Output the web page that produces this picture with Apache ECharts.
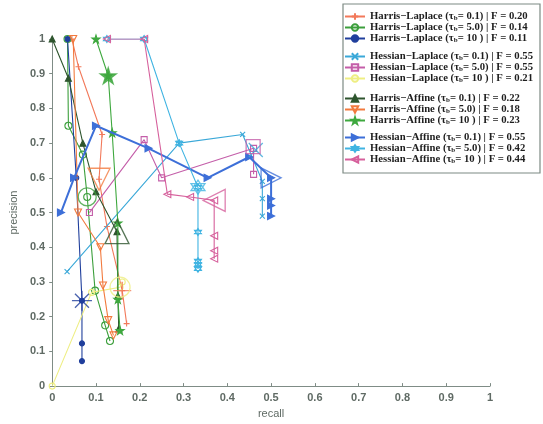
<!DOCTYPE html>
<html>
<head>
<meta charset="utf-8">
<script src="https://cdn.jsdelivr.net/npm/echarts@6/dist/echarts.min.js"></script>
<style>
  html, body { margin: 0; padding: 0; background: #ffffff; }
  #chart { width: 543px; height: 424px; }
</style>
</head>
<body>
<div id="chart"></div>
<script>
// Precision / recall curves of the detectors, one pair of arrays per curve.
const recallHarrisLaplace01 = [0.045, 0.06, 0.114, 0.107, 0.125, 0.16, 0.17];
const precisionHarrisLaplace01 = [1.0, 0.92, 0.725, 0.596, 0.46, 0.275, 0.18];

const recallHarrisLaplace50 = [0.035, 0.037, 0.07, 0.08, 0.098, 0.121, 0.132];
const precisionHarrisLaplace50 = [1.0, 0.75, 0.667, 0.545, 0.275, 0.175, 0.13];

const recallHarrisLaplace10 = [0.035, 0.055, 0.068, 0.068, 0.068];
const precisionHarrisLaplace10 = [1.0, 0.6, 0.246, 0.123, 0.072];

const recallHessianLaplace01 = [0.034, 0.29, 0.435, 0.48, 0.48, 0.48];
const precisionHessianLaplace01 = [0.33, 0.70, 0.725, 0.59, 0.54, 0.49];

const recallHessianLaplace50 = [0.085, 0.21, 0.25, 0.46, 0.46];
const precisionHessianLaplace50 = [0.5, 0.71, 0.6, 0.685, 0.61];

const recallHessianLaplace10 = [0.0, 0.09, 0.155, 0.16];
const precisionHessianLaplace10 = [0.0, 0.27, 0.285, 0.30];

const recallHarrisAffine01 = [0.0, 0.037, 0.07, 0.1, 0.148, 0.15, 0.152];
const precisionHarrisAffine01 = [1.0, 0.887, 0.70, 0.56, 0.445, 0.26, 0.165];

const recallHarrisAffine50 = [0.048, 0.059, 0.11, 0.116, 0.128, 0.14];
const precisionHarrisAffine50 = [1.0, 0.5, 0.40, 0.29, 0.19, 0.146];

const recallHarrisAffine10 = [0.1, 0.128, 0.137, 0.15, 0.15, 0.155];
const precisionHarrisAffine10 = [1.0, 0.894, 0.73, 0.47, 0.25, 0.16];

const recallHessianAffine01 = [0.02, 0.05, 0.1, 0.22, 0.355, 0.45, 0.5, 0.5, 0.5, 0.5];
const precisionHessianAffine01 = [0.5, 0.6, 0.75, 0.685, 0.6, 0.66, 0.6, 0.54, 0.52, 0.49];

const recallHessianAffine50 = [0.125, 0.21, 0.29, 0.333, 0.333, 0.333, 0.333, 0.333];
const precisionHessianAffine50 = [1.0, 1.0, 0.70, 0.573, 0.444, 0.36, 0.35, 0.338];

const recallHessianAffine10 = [0.125, 0.21, 0.263, 0.315, 0.37, 0.37, 0.37, 0.37];
const precisionHessianAffine10 = [1.0, 1.0, 0.553, 0.545, 0.535, 0.433, 0.39, 0.367];

// Operating point with the best F-measure for each curve (legend order).
const bestRecall = [0.16, 0.08, 0.068, 0.465, 0.459, 0.155, 0.148, 0.107, 0.128, 0.5, 0.333, 0.37];
const bestPrecision = [0.275, 0.545, 0.246, 0.68, 0.69, 0.285, 0.445, 0.596, 0.894, 0.6, 0.573, 0.535];

// Legend text parts.
const detectorNames = ['Harris\u2212Laplace', 'Harris\u2212Laplace', 'Harris\u2212Laplace',
  'Hessian\u2212Laplace', 'Hessian\u2212Laplace', 'Hessian\u2212Laplace',
  'Harris\u2212Affine', 'Harris\u2212Affine', 'Harris\u2212Affine',
  'Hessian\u2212Affine', 'Hessian\u2212Affine', 'Hessian\u2212Affine'];
const tauLabels = ['0.1', '5.0', '10 ', '0.1', '5.0', '10 ', '0.1', '5.0', '10 ', '0.1', '5.0', '10 '];
const fScores = ['0.20', '0.14', '0.11', '0.55', '0.55', '0.21', '0.22', '0.18', '0.23', '0.55', '0.42', '0.44'];

const recallSets = [recallHarrisLaplace01, recallHarrisLaplace50, recallHarrisLaplace10,
  recallHessianLaplace01, recallHessianLaplace50, recallHessianLaplace10,
  recallHarrisAffine01, recallHarrisAffine50, recallHarrisAffine10,
  recallHessianAffine01, recallHessianAffine50, recallHessianAffine10];
const precisionSets = [precisionHarrisLaplace01, precisionHarrisLaplace50, precisionHarrisLaplace10,
  precisionHessianLaplace01, precisionHessianLaplace50, precisionHessianLaplace10,
  precisionHarrisAffine01, precisionHarrisAffine50, precisionHarrisAffine10,
  precisionHessianAffine01, precisionHessianAffine50, precisionHessianAffine10];

// Marker shapes.
const SYM = {
  plus: 'path://M0,5L10,5M5,0L5,10',
  cross: 'path://M0,0L10,10M10,0L0,10',
  star6: 'path://M0,5L10,5M5,0L5,10M1.5,1.5L8.5,8.5M8.5,1.5L1.5,8.5',
  circle: 'circle',
  dot: 'circle',
  square: 'rect',
  triUp: 'path://M5,0L10,9L0,9Z',
  triDown: 'path://M0,0L10,0L5,9Z',
  triRight: 'path://M0,0L9,5L0,10Z',
  triLeft: 'path://M9,0L0,5L9,10Z',
  pentagram: 'path://M5,0L6.123,3.455L9.755,3.455L6.817,5.59L7.939,9.045L5,6.91L2.061,9.045L3.183,5.59L0.245,3.455L3.877,3.455Z',
  hexagram: 'path://M5,0L9.33,7.5L0.67,7.5Z M5,10L9.33,2.5L0.67,2.5Z'
};

// Per-curve drawing style.
const styles = [
  { color: '#f2795a', mark: 'plus', best: 'plus', fill: false, size: 6, bigSize: 18, width: 1.1 },
  { color: '#3c9f3c', mark: 'circle', best: 'circle', fill: false, size: 7, bigSize: 18, width: 1.1 },
  { color: '#203f9c', mark: 'dot', best: 'star6', fill: true, size: 5, bigSize: 20, width: 1.1 },
  { color: '#3aa8d8', mark: 'cross', best: 'cross', fill: false, size: 5, bigSize: 14, width: 1.1 },
  { color: '#c45ea9', mark: 'square', best: 'square', fill: false, size: 6, bigSize: 14, width: 1.1 },
  { color: '#eeee82', mark: 'circle', best: 'circle', fill: false, size: 6, bigSize: 20, width: 1.1 },
  { color: '#2e552e', mark: 'triUp', best: 'triUp', fill: true, size: 6, bigSize: 24, width: 1.1 },
  { color: '#f27a3e', mark: 'triDown', best: 'triDown', fill: false, size: 7, bigSize: 22, width: 1.1 },
  { color: '#3ea83e', mark: 'pentagram', best: 'pentagram', fill: true, size: 8, bigSize: 16, width: 1.1 },
  { color: '#3d6fd8', mark: 'triRight', best: 'triRight', fill: true, size: 7, bigSize: 20, width: 2 },
  { color: '#40b4e2', mark: 'hexagram', best: 'hexagram', fill: true, size: 7, bigSize: 14, width: 1.1 },
  { color: '#d6609c', mark: 'triLeft', best: 'triLeft', fill: false, size: 7, bigSize: 22, width: 1.1 }
];

const names = detectorNames.map((d, i) => d + ' (\u03c4b= ' + tauLabels[i] + ') | F = ' + fScores[i]);
const richLabel = {};
names.forEach((n, i) => {
  richLabel[n] = detectorNames[i] + ' (\u03c4{s|b}= ' + tauLabels[i] + ') | F = ' + fScores[i];
});

const series = [];
names.forEach((name, i) => {
  const st = styles[i];
  const pts = recallSets[i].map((r, k) => [r, precisionSets[i][k]]);
  series.push({
    name: name,
    type: 'line',
    data: pts,
    symbol: SYM[st.mark],
    symbolSize: st.size,
    showAllSymbol: true,
    lineStyle: { color: st.color, width: st.width },
    itemStyle: {
      color: st.fill ? st.color : 'rgba(255,255,255,0)',
      borderColor: st.color,
      borderWidth: 1.1
    },
    emphasis: { disabled: true },
    z: 2 + i * 0.01
  });
  series.push({
    name: name,
    type: 'scatter',
    data: [[bestRecall[i], bestPrecision[i]]],
    symbol: SYM[st.best],
    symbolSize: st.bigSize,
    itemStyle: {
      color: st.mark === 'pentagram' ? st.color : 'rgba(255,255,255,0)',
      borderColor: st.color,
      borderWidth: 1.3
    },
    emphasis: { disabled: true },
    z: 3
  });
});

const legendTops = [11, 51, 93, 132];
const legends = legendTops.map((top, g) => ({
  orient: 'vertical',
  left: 344,
  top: top,
  z: 20,
  itemWidth: 20,
  itemHeight: 8,
  itemGap: 0,
  padding: 0,
  selectedMode: false,
  data: names.slice(g * 3, g * 3 + 3),
  formatter: n => richLabel[n],
  textStyle: {
    fontFamily: 'Liberation Serif',
    fontWeight: 'bold',
    fontSize: 10.7,
    lineHeight: 11,
    color: '#1e1e1e',
    rich: {
      s: { fontFamily: 'Liberation Serif', fontWeight: 'bold', fontSize: 7, lineHeight: 6, verticalAlign: 'bottom' }
    }
  }
}));

const axisText = { fontFamily: 'Liberation Sans', fontSize: 11, fontWeight: 'bold', color: '#5f6a64' };

const chart = echarts.init(document.getElementById('chart'), null, { renderer: 'canvas' });
chart.setOption({
  backgroundColor: '#ffffff',
  animation: false,
  grid: { left: 52, right: 53, top: 39, bottom: 36, show: false },
  xAxis: {
    type: 'value', min: 0, max: 1, interval: 0.1,
    name: 'recall', nameLocation: 'middle', nameGap: 18,
    nameTextStyle: { fontFamily: 'Liberation Sans', fontSize: 11, color: '#5f6a64' },
    axisLine: { show: true, lineStyle: { color: '#7f8c86', width: 1 } },
    axisTick: { show: true, inside: true, length: 3, lineStyle: { color: '#7f8c86' } },
    axisLabel: Object.assign({ margin: 6 }, axisText),
    splitLine: { show: false }
  },
  yAxis: {
    type: 'value', min: 0, max: 1, interval: 0.1,
    name: 'precision', nameLocation: 'middle', nameGap: 33, nameRotate: 90,
    nameTextStyle: { fontFamily: 'Liberation Sans', fontSize: 11, color: '#5f6a64' },
    axisLine: { show: true, lineStyle: { color: '#7f8c86', width: 1 } },
    axisTick: { show: true, inside: false, length: 3, lineStyle: { color: '#7f8c86' } },
    axisLabel: Object.assign({ margin: 7 }, axisText),
    splitLine: { show: false }
  },
  graphic: [{
    type: 'rect',
    shape: { x: 343, y: 4, width: 197, height: 169 },
    style: { fill: '#ffffff', stroke: '#7d8a84', lineWidth: 1.2 },
    z: 1
  }],
  legend: legends,
  series: series
});
</script>
</body>
</html>
